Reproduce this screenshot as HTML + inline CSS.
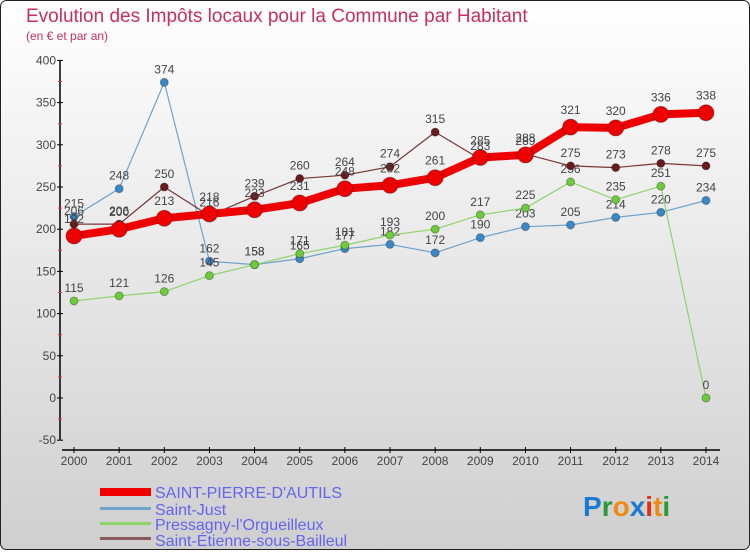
<!DOCTYPE html>
<html><head><meta charset="utf-8"><style>
html,body{margin:0;padding:0}
body{width:750px;height:550px;overflow:hidden;font-family:"Liberation Sans",sans-serif}
</style></head><body>
<svg width="750" height="550" xmlns="http://www.w3.org/2000/svg" id="svg">
<defs><linearGradient id="bg" x1="0" y1="0" x2="0" y2="1"><stop offset="0" stop-color="#ffffff"/><stop offset="1" stop-color="#cfcfcf"/></linearGradient></defs>
<rect x="0.5" y="0.5" width="749" height="549" rx="6" fill="url(#bg)" stroke="#222"/>
<text x="26" y="22" font-size="19" fill="#c8305a">Evolution des Impôts locaux pour la Commune par Habitant</text>
<text x="26" y="40" font-size="12" fill="#c8305a">(en € et par an)</text>
<g id="axes"></g>
<g id="series"></g>
<g id="legend">
<rect x="100" y="488" width="51" height="8" fill="#e00"/>
<text x="155" y="498" font-size="16" fill="#6464ee">SAINT-PIERRE-D'AUTILS</text>
<rect x="100" y="507" width="51" height="3" fill="#6fa3cc"/>
<text x="155" y="515" font-size="16" fill="#6464ee">Saint-Just</text>
<rect x="100" y="522" width="51" height="3" fill="#8fd36b"/>
<text x="155" y="530" font-size="16" fill="#6464ee">Pressagny-l'Orgueilleux</text>
<rect x="100" y="537" width="51" height="3" fill="#8a5a5a"/>
<text x="155" y="546" font-size="16" fill="#6464ee">Saint-Étienne-sous-Bailleul</text>
</g>
<g font-size="28" font-weight="bold">
<text x="583" y="516"><tspan fill="#1a7ad0">P</tspan><tspan fill="#2a9a3a">r</tspan><tspan fill="#f08a10">o</tspan><tspan fill="#1a7ad0">x</tspan><tspan fill="#e03010">i</tspan><tspan fill="#f08a10">t</tspan><tspan fill="#2a9a3a">i</tspan></text>
</g>
</svg>
<script>
const years=[2000,2001,2002,2003,2004,2005,2006,2007,2008,2009,2010,2011,2012,2013,2014];
const yTicks=[-50,0,50,100,150,200,250,300,350,400];
const saintPierre=[192,200,213,218,223,231,248,252,261,285,288,321,320,336,338];
const saintJust=[215,248,374,162,158,165,177,182,172,190,203,205,214,220,234];
const pressagny=[115,121,126,145,158,171,181,193,200,217,225,256,235,251,0];
const saintEtienne=[206,206,250,216,239,260,264,274,315,283,289,275,273,278,275];
const NS='http://www.w3.org/2000/svg';
function xs(i){return 74+i*(706-74)/(years.length-1);}
function ys(v){return 398-v*0.844;}
function mk(tag,attrs,parent,txt){const e=document.createElementNS(NS,tag);for(const k in attrs)e.setAttribute(k,attrs[k]);if(txt!==undefined)e.textContent=txt;parent.appendChild(e);return e;}
const ax=document.getElementById('axes');
let l=mk('line',{x1:60,y1:ys(400),x2:60,y2:ys(-50),stroke:'#000','stroke-width':1.5},ax);


yTicks.forEach((t,i)=>{
  mk('line',{x1:57,x2:63,y1:ys(t),y2:ys(t),stroke:'#000'},ax);
  if(i<yTicks.length-1)mk('line',{x1:58,x2:62,y1:ys(t+25),y2:ys(t+25),stroke:'#e33'},ax);
  const tx=mk('text',{x:56,y:ys(t)+4,'font-size':12,fill:'#444','text-anchor':'end'},ax,String(t));
  
  
});
l=mk('line',{x1:62,y1:450,x2:720,y2:450,stroke:'#000','stroke-width':1.5},ax);


years.forEach((y,i)=>{
  mk('line',{x1:xs(i),x2:xs(i),y1:447,y2:453,stroke:'#000'},ax);
  const tx=mk('text',{x:xs(i),y:465,'font-size':12,fill:'#444','text-anchor':'middle'},ax,String(y));
  
  
});
const sg=document.getElementById('series');
function draw(data,name,color,dot,w,r){
  const g=mk('g',{},sg);
  
  
  const pl=mk('polyline',{points:data.map((v,i)=>xs(i)+','+ys(v)).join(' '),fill:'none',stroke:color,'stroke-width':w,'stroke-linejoin':'round'},g);
  
  
  data.forEach((v,i)=>{
    const c=mk('circle',{cx:xs(i),cy:ys(v),r:r,fill:dot,stroke:'rgba(0,0,0,0.3)'},g);
    
    
    const t=mk('text',{x:xs(i),y:ys(v)-(r+5),'font-size':12,fill:'#444','text-anchor':'middle'},g,String(v));
    
    
  });
}
draw(saintJust,'saint-just','#6fa3cc','#3a88c8',1.2,4);
draw(pressagny,'pressagny','#8fd36b','#6ccc3a',1.2,4);
draw(saintEtienne,'saint-etienne','#7a3535','#6a1a1a',1.2,4);
draw(saintPierre,'saint-pierre','#ee0000','#ee0000',8,8);
</script>
</body></html>
